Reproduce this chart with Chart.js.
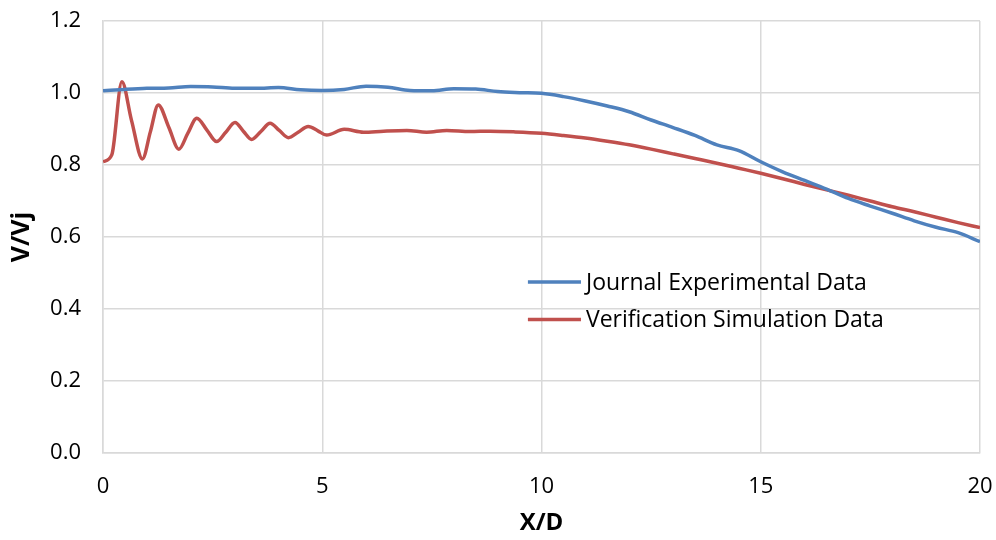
<!DOCTYPE html>
<html><head><meta charset="utf-8">
<script src="https://cdn.jsdelivr.net/npm/chart.js@4/dist/chart.umd.min.js"></script>
<style>html,body{margin:0;padding:0;background:#fff}#wrap{width:996px;height:540px}</style>
</head><body><div id="wrap"><canvas id="c" width="996" height="540"></canvas></div>
<script>
const seriesNames = ["Journal Experimental Data", "Verification Simulation Data"];
const expX = [0,0.5,1,1.5,2,2.5,3,3.5,4,4.5,5,5.5,6,6.5,7,7.5,8,8.5,9,9.5,10,10.5,11,11.5,12,12.5,13,13.5,14,14.5,15,15.5,16,16.5,17,17.5,18,18.5,19,19.5,20];
const expY = [1.006,1.010,1.013,1.014,1.018,1.017,1.013,1.013,1.015,1.009,1.007,1.010,1.019,1.016,1.007,1.006,1.012,1.011,1.004,1.001,0.999,0.990,0.978,0.964,0.948,0.925,0.904,0.882,0.856,0.840,0.809,0.781,0.757,0.733,0.707,0.686,0.666,0.645,0.627,0.612,0.587];
const simX = [0,0.2,0.43,0.65,0.9,1.08,1.26,1.5,1.73,1.93,2.14,2.37,2.59,2.8,3.01,3.2,3.39,3.6,3.81,4.02,4.23,4.45,4.68,4.9,5.1,5.5,5.94,6.4,6.93,7.38,7.84,8.37,8.83,9.4,10,10.5,11,11.5,12,12.5,13,13.5,14,14.5,15,15.5,16,16.5,17,17.5,18,18.5,19,19.5,20];
const simY = [0.809,0.828,1.031,0.924,0.817,0.892,0.967,0.905,0.844,0.887,0.930,0.897,0.865,0.891,0.918,0.894,0.871,0.893,0.916,0.896,0.876,0.891,0.907,0.895,0.883,0.899,0.891,0.894,0.896,0.891,0.896,0.893,0.894,0.892,0.888,0.882,0.875,0.866,0.856,0.844,0.831,0.818,0.805,0.791,0.777,0.762,0.746,0.731,0.716,0.700,0.684,0.670,0.655,0.640,0.626];
const xTicks = [0,5,10,15,20];
const yTicks = [0,0.2,0.4,0.6,0.8,1.0,1.2];

const toPts = (xs, ys) => xs.map((x,i)=>({x:x,y:ys[i]}));
const FONT = "'Open Sans', 'Liberation Sans', sans-serif";

const legendPlugin = {
  id:'inlegend',
  afterDraw(chart){
    const ctx = chart.ctx;
    const xs = chart.scales.x, ys = chart.scales.y;
    const items = chart.data.datasets;
    const lx = xs.getPixelForValue(9.69), lx2 = xs.getPixelForValue(10.9);
    const rows = [ys.getPixelForValue(0.475), ys.getPixelForValue(0.3705)];
    ctx.save();
    items.forEach((d,i)=>{
      ctx.strokeStyle = d.borderColor; ctx.lineWidth = 3.5;
      ctx.beginPath(); ctx.moveTo(lx, rows[i]); ctx.lineTo(lx2, rows[i]); ctx.stroke();
      ctx.fillStyle = '#000'; ctx.font = "23px " + FONT; ctx.textBaseline='middle';
      ctx.fillText(d.label, lx2 + 5, rows[i] + 1);
    });
    ctx.restore();
  }
};

new Chart(document.getElementById('c'), {
  type:'scatter',
  data:{datasets:[
    {label:seriesNames[0], data:toPts(expX,expY), showLine:true, borderColor:'#4F81BD', backgroundColor:'#4F81BD', borderWidth:3.5, pointRadius:0, tension:0.4, cubicInterpolationMode:'monotone'},
    {label:seriesNames[1], data:toPts(simX,simY), showLine:true, borderColor:'#C0504D', backgroundColor:'#C0504D', borderWidth:3.5, pointRadius:0, tension:0.4, cubicInterpolationMode:'monotone'}
  ]},
  options:{
    responsive:false, animation:false,
    layout:{padding:{left:0,right:16,top:21,bottom:0}},
    plugins:{legend:{display:false}, tooltip:{enabled:false}},
    scales:{
      x:{type:'linear', min:0, max:20,
        afterBuildTicks(s){ s.ticks = xTicks.map(v=>({value:v})); },
        afterFit(s){ s.height = 87; s.paddingLeft = 0; s.paddingRight = 0; },
        grid:{color:'#d9d9d9', lineWidth:1.5, drawTicks:false},
        border:{color:'#d9d9d9', width:1.5},
        ticks:{color:'#000', font:{family:FONT, size:22}, padding:21},
        title:{display:true, text:'X/D', color:'#000', font:{family:FONT, size:24, weight:'bold'}, padding:{top:0,bottom:2}}
      },
      y:{type:'linear', min:0, max:1.2,
        afterBuildTicks(s){ s.ticks = yTicks.map(v=>({value:v})); },
        afterFit(s){ s.width = 103; s.paddingTop = 0; s.paddingBottom = 0; },
        grid:{color:'#d9d9d9', lineWidth:1.5, drawTicks:false},
        border:{color:'#d9d9d9', width:1.5},
        ticks:{color:'#000', font:{family:FONT, size:22}, padding:22, callback:v=>Number(v).toFixed(1)},
        title:{display:true, text:'V/Vj', color:'#000', font:{family:FONT, size:25, weight:'bold'}, padding:{top:7,bottom:0}}
      }
    }
  },
  plugins:[legendPlugin]
});
</script></body></html>
